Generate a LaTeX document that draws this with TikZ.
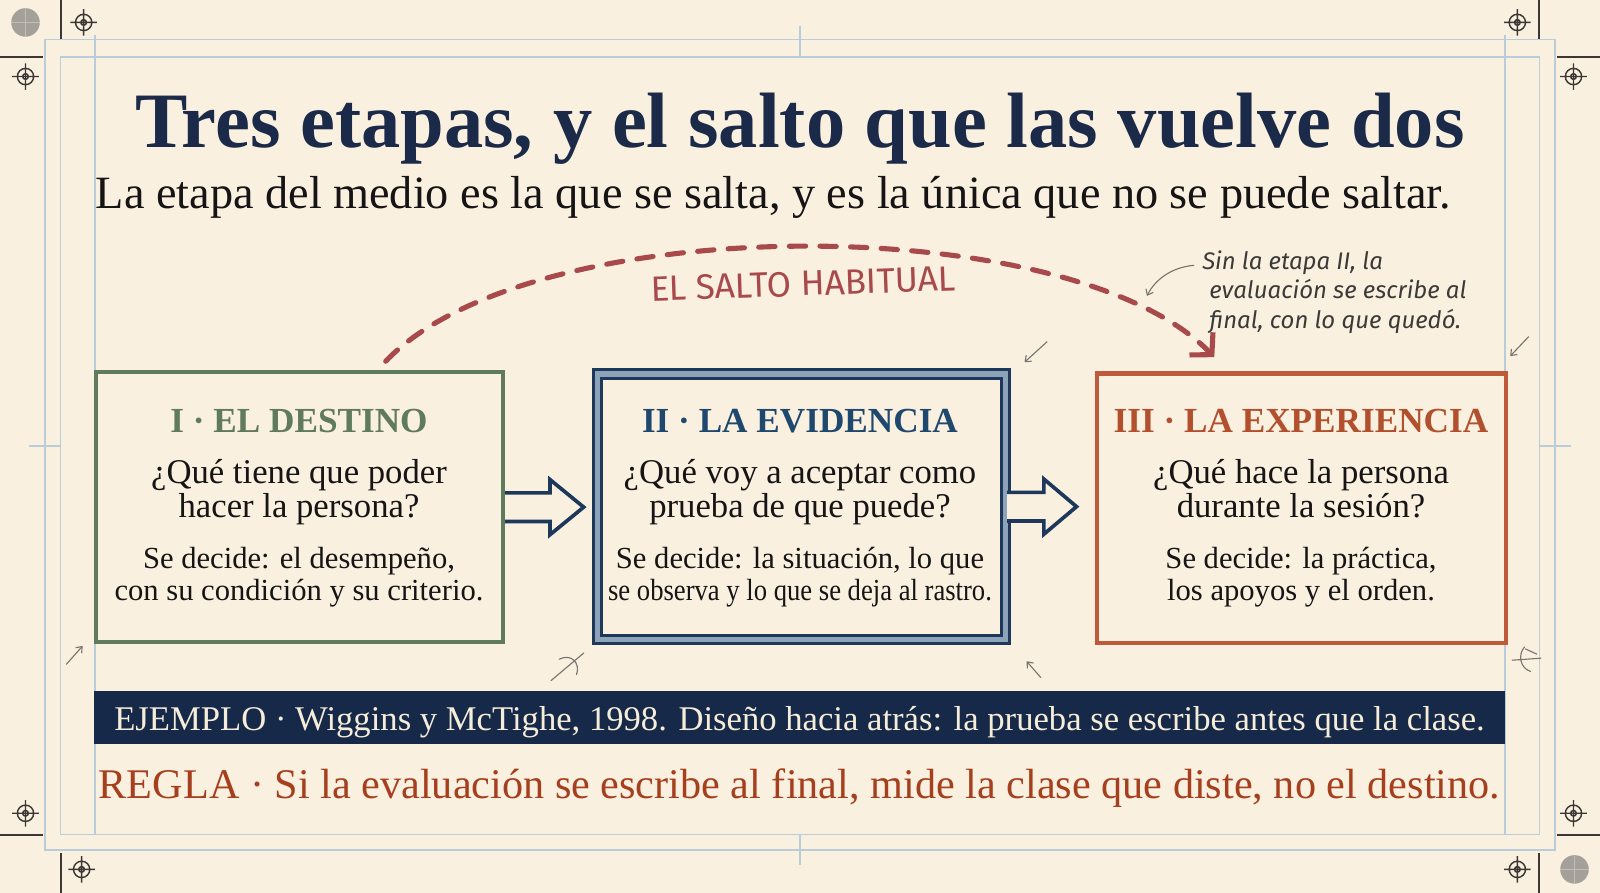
\documentclass[tikz,border=0pt]{standalone}
\usepackage{fontspec}
\usepackage{graphicx}
\setmainfont{Liberation Serif}
\newfontfamily\handfont{Fira Sans}
\usetikzlibrary{arrows.meta,calc}
\definecolor{bgc}{RGB}{250,240,224}
\definecolor{ink}{RGB}{27,42,72}
\definecolor{greenc}{RGB}{96,122,92}
\definecolor{navyc}{RGB}{30,56,92}
\definecolor{navyband}{RGB}{141,163,185}
\definecolor{navytitle}{RGB}{31,72,110}
\definecolor{rustc}{RGB}{190,90,58}
\definecolor{rusttitle}{RGB}{178,80,45}
\definecolor{barc}{RGB}{22,41,72}
\definecolor{bartext}{RGB}{246,236,218}
\definecolor{reglac}{RGB}{166,63,30}
\definecolor{arcc}{RGB}{168,74,76}
\definecolor{guide}{RGB}{184,204,218}
\definecolor{framec}{RGB}{60,55,52}
\definecolor{pencilc}{RGB}{120,116,110}
\definecolor{notec}{RGB}{60,58,56}
\definecolor{textc}{RGB}{22,20,20}
\definecolor{dotc}{RGB}{165,161,154}
\newcommand\fitto[2]{\resizebox{#1pt}{!}{#2}}
\begin{document}
\begin{tikzpicture}[x=1pt,y=-1pt,
  crosshair/.pic={\draw[framec,line width=1.4pt] (0,0) circle (8pt) (0,0) circle (2.8pt) (-13,0)--(13,0) (0,-13)--(0,13);},
  regdot/.pic={\fill[dotc] (0,0) circle (14pt); \draw[dotc!70!white,line width=0.6pt] (-14,0)--(14,0) (0,-14)--(0,14);},
  frameline/.style={framec,line width=1.6pt},
  guideline/.style={guide,line width=1.3pt},
  stagebox/.style={line width=4pt, fill=bgc, inner sep=0pt},
  blockarrow/.style={navyc, line width=3.6pt, fill=bgc, line join=miter},
  skiparc/.style={arcc, line width=5pt, dash pattern=on 16pt off 14pt, line cap=round},
  pencilline/.style={pencilc, line width=1.1pt, line cap=round},
  boxtitle/.style={anchor=base, inner sep=0pt, font=\bfseries\fontsize{34.5}{40}\selectfont},
  question/.style={anchor=base, inner sep=0pt, text=textc, font=\fontsize{34}{40}\selectfont},
  decision/.style={anchor=base, inner sep=0pt, text=textc, font=\fontsize{30}{36}\selectfont},
  notetext/.style={anchor=base west, inner sep=0pt, text=notec, font=\handfont\itshape\fontsize{23.5}{27}\selectfont},
  barb/.style={-{Straight Barb[length=5pt,width=8pt]}}
]
\useasboundingbox (0,0) rectangle (1568,875);
\fill[bgc] (0,0) rectangle (1568,875);

% guides
\draw[guideline] (44,39) rectangle (1524,833);
\draw[guideline] (59,56) rectangle (1509,818);
\draw[guideline] (93,34) -- (93,818);
\draw[guideline] (1475,34) -- (1475,818);
\draw[guideline] (784,25) -- (784,56);
\draw[guideline] (784,818) -- (784,848);
\draw[guideline] (28,437) -- (59,437);
\draw[guideline] (1509,437) -- (1540,437);

% frame lines
\draw[frameline] (60,0) -- (60,38);
\draw[frameline] (0,56) -- (42,56);
\draw[frameline] (1508,0) -- (1508,38);
\draw[frameline] (1526,56) -- (1568,56);
\draw[frameline] (0,818) -- (42,818);
\draw[frameline] (60,836) -- (60,875);
\draw[frameline] (1526,818) -- (1568,818);
\draw[frameline] (1508,836) -- (1508,875);

\pic at (82,22) {crosshair};
\pic at (25,75) {crosshair};
\pic at (1487,22) {crosshair};
\pic at (1542,75) {crosshair};
\pic at (25,797) {crosshair};
\pic at (80,852) {crosshair};
\pic at (1542,797) {crosshair};
\pic at (1487,852) {crosshair};
\pic at (25,22) {regdot};
\pic at (1543,852) {regdot};

% title
\node[anchor=base, inner sep=0pt, text=ink] (title) at (784,145) {\fitto{1302}{\bfseries Tres etapas, y el salto que las vuelve dos}};
\node[anchor=base, inner sep=0pt, text=textc] (sub) at (758,204) {\fitto{1328}{La etapa del medio es la que se salta, y es la única que no se puede saltar.}};

% boxes
\node[stagebox, draw=greenc, minimum width=399pt, minimum height=264pt] (b1) at (293.5,497) {};
\node[stagebox, draw=navyc, double=navyband, double distance=5pt, line width=3pt, minimum width=400pt, minimum height=260pt] (b2) at (785.5,496.5) {};
\node[stagebox, draw=rustc, minimum width=401pt, minimum height=264pt] (b3) at (1275.5,498) {};

% block arrows
\draw[blockarrow] (b1.east) ++(0,-14) -- ++(44,0) -- ++(0,-13) -- ++(33,27) -- ++(-33,27) -- ++(0,-13) -- ++(-44,0);
\draw[blockarrow] (b2.east) ++(0,-14) -- ++(36,0) -- ++(0,-13) -- ++(32,27) -- ++(-32,27) -- ++(0,-13) -- ++(-36,0);

% box texts
\node[boxtitle, text=greenc] (t1) at (293,424) {I · EL DESTINO};
\node[question] (q1a) at (293,474) {¿Qué tiene que poder};
\node[question] (q1b) at (293,507) {hacer la persona?};
\node[decision] (d1a) at (293,557) {Se decide: el desempeño,};
\node[decision] (d1b) at (293,588) {con su condición y su criterio.};

\node[boxtitle, text=navytitle] (t2) at (784,424) {II · LA EVIDENCIA};
\node[question] (q2a) at (784,474) {¿Qué voy a aceptar como};
\node[question] (q2b) at (784,507) {prueba de que puede?};
\node[decision] (d2a) at (784,557) {Se decide: la situación, lo que};
\node[decision] (d2b) at (784,588) {\scalebox{0.87}[1]{se observa y lo que se deja al rastro.}};

\node[boxtitle, text=rusttitle] (t3) at (1275,424) {III · LA EXPERIENCIA};
\node[question] (q3a) at (1275,474) {¿Qué hace la persona};
\node[question] (q3b) at (1275,507) {durante la sesión?};
\node[decision] (d3a) at (1275,557) {Se decide: la práctica,};
\node[decision] (d3b) at (1275,588) {los apoyos y el orden.};

% skip arc
\coordinate (arcS) at (378,354);
\coordinate (arcE) at (1190,350);
\draw[skiparc, -{Straight Barb[length=15pt,width=32pt]}] (arcS) .. controls (520,205) and (1050,205) .. (arcE);
\node[inner sep=0pt, rotate=2, text=arcc] (saltolbl) at (787,278) {\fitto{299}{\handfont EL SALTO HABITUAL}};

% note
\node[notetext] (note1) at (1178,264) {Sin la etapa II, la};
\node[notetext] (note2) at (1185,293) {evaluación se escribe al};
\node[notetext] (note3) at (1185,322) {final, con lo que quedó.};
\coordinate (nA) at ($(note1.base west)+(-8,-4)$);
\draw[pencilline, barb] (nA) .. controls ($(nA)+(-22,2)$) and ($(nA)+(-38,14)$) .. ($(nA)+(-46,30)$);

% pencil marks
\draw[pencilline, barb] (1026,335) -- (1004,355);
\draw[pencilline, barb] (1498,330) -- (1480,349);
\draw[pencilline, barb] (65,651) -- (81,633);
\draw[pencilline, barb] (1020,664) -- (1006,648);
\draw[pencilline] (540,667) -- (572,640);
\draw[pencilline] (548,646) .. controls (560,640) and (569,650) .. (565,661);
\draw[pencilline] (1482,647) -- (1510,645);
\draw[pencilline] (1494,634) .. controls (1487,642) and (1490,655) .. (1500,658);
\draw[pencilline] (1495,636) -- (1506,641);

% example bar and rule
\node[fill=barc, minimum width=1383pt, minimum height=52pt, inner sep=0pt] (bar) at (783.5,703) {};
\node[anchor=base, inner sep=0pt, text=bartext] (ej) at (783.5,716) {\fitto{1343}{EJEMPLO · Wiggins y McTighe, 1998. Diseño hacia atrás: la prueba se escribe antes que la clase.}};
\node[anchor=base, inner sep=0pt, text=reglac] (regla) at (783.5,783) {\fitto{1373}{REGLA · Si la evaluación se escribe al final, mide la clase que diste, no el destino.}};
\end{tikzpicture}
\end{document}
